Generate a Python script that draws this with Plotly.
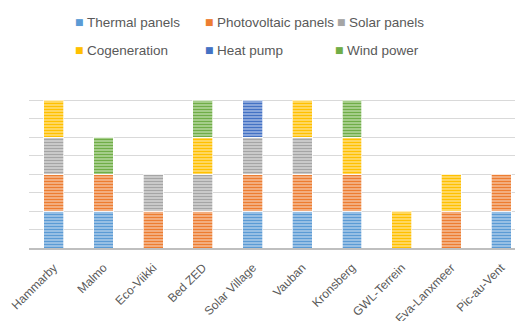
import plotly.graph_objects as go

categories = ["Hammarby", "Malmo", "Eco-Viikki", "Bed ZED", "Solar Village",
              "Vauban", "Kronsberg", "GWL-Terrein", "Eva-Lanxmeer", "Pic-au-Vent"]
series_names = ["Thermal panels", "Photovoltaic panels", "Solar panels",
                "Cogeneration", "Heat pump", "Wind power"]
thermal = [1, 1, None, None, 1, 1, 1, None, None, 1]
photovoltaic = [1, 1, 1, 1, 1, 1, 1, None, 1, 1]
solar = [1, None, 1, 1, 1, 1, None, None, None, None]
cogeneration = [1, None, None, 1, None, 1, 1, 1, 1, None]
heat_pump = [None, None, None, None, 1, None, None, None, None, None]
wind = [None, 1, None, 1, None, None, 1, None, None, None]

series_values = [thermal, photovoltaic, solar, cogeneration, heat_pump, wind]
colors = ["#5B9BD5", "#ED7D31", "#A5A5A5", "#FFC000", "#4472C4", "#70AD47"]
light = ["#B4D0EC", "#F7C4A2", "#DADADA", "#FFE38A", "#A8BDE6", "#BDDDA8"]

# the page body has an 8px default margin on every side
OFF = 8
W, H = 523 - 2 * OFF, 329 - 2 * OFF
L, R, T, B = 29 - OFF, 0, 73, 73

fig = go.Figure()
for name, vals, c, lc in zip(series_names, series_values, colors, light):
    fig.add_trace(go.Bar(
        x=categories, y=vals, name=name, showlegend=False,
        marker=dict(color=c,
                    line=dict(color="rgba(255,255,255,0.7)", width=1),
                    pattern=dict(shape="-", fgcolor=c, bgcolor=lc,
                                 size=3, solidity=0.55, fillmode="replace")),
    ))

# legend built as text annotations (page-pixel positions)
pw = W - L - R
ph = H - T - B
def px_to_paper(x, y):
    x -= OFF
    y -= OFF
    return (x - L) / pw, (H - B - y) / ph

legend_pos = [(85, 22), (215, 22), (347, 22), (85, 50), (215, 50), (345, 50)]
for name, c, (lx, ly) in zip(series_names, colors, legend_pos):
    mx, my = px_to_paper(lx - 6, ly)
    tx, ty = px_to_paper(lx, ly)
    fig.add_annotation(x=mx, y=my, xref="paper", yref="paper", text="■",
                       showarrow=False, xanchor="center", yanchor="middle",
                       font=dict(size=9, color=c, family="DejaVu Sans"))
    fig.add_annotation(x=tx, y=ty, xref="paper", yref="paper", text=name,
                       showarrow=False, xanchor="left", yanchor="middle",
                       font=dict(size=13.5, color="#595959", family="Liberation Sans"))

fig.update_layout(
    width=W, height=H,
    margin=dict(l=L, r=R, t=T, b=B, pad=0, autoexpand=False),
    barmode="stack", bargap=0.6,
    plot_bgcolor="white", paper_bgcolor="white",
    font=dict(family="Liberation Sans", color="#595959"),
    xaxis=dict(range=[-0.5, 9.28], showgrid=False, showline=True, automargin=False,
               linecolor="#BFBFBF", linewidth=2, tickangle=-45,
               tickfont=dict(size=12, color="#595959"), ticks="",
               ticklabelstandoff=6),
    yaxis=dict(range=[0, 4.52], dtick=0.5, showgrid=True, gridcolor="#D9D9D9",
               gridwidth=1, showticklabels=False, zeroline=False, ticks="",
               automargin=False),
)

fig.write_html("out.html")
